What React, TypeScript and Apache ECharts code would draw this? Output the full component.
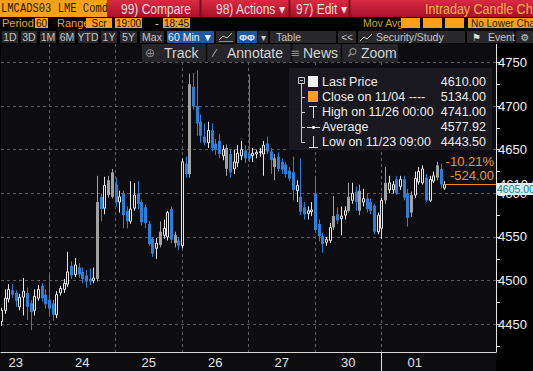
import React, { useEffect, useRef } from "react";
import * as echarts from "echarts";

// ---------- data ----------
const tradingDates = ["11/23", "11/24", "11/25", "11/26", "11/27", "11/30", "12/01", "12/02"];
const sessionHours = [
  "20:00", "21:00", "22:00", "23:00", "00:00", "01:00", "02:00", "03:00", "04:00",
  "05:00", "06:00", "07:00", "08:00", "09:00", "10:00", "11:00", "12:00", "13:00",
];
const firstSlot = 5; // first visible bar = 6th hourly slot of 11/23
const slotCount = 135; // bars that fit the visible time window

const opens = [
  4453, 4466, 4479, 4489, 4486, 4470, 4481, 4486, 4474, 4466, 4480, 4494, 4484,
  4478, 4474, 4461, 4486, 4490, 4496, 4517, 4507, 4515, 4510, 4506, 4502, 4500, 4502, 4596, 4583, 4598, 4596,
  4610, 4590, 4600, 4580, 4568, 4583, 4600, 4590, 4584, 4565, 4548, 4537, 4541, 4552, 4550, 4582, 4543, 4546,
  4540, 4634, 4622, 4722, 4700, 4682, 4665, 4658, 4672, 4657, 4660, 4643, 4628, 4645, 4628, 4635, 4643, 4649,
  4645, 4643, 4645, 4647, 4645, 4657, 4648, 4630, 4642, 4636, 4633, 4626, 4624, 4603, 4596, 4584, 4577, 4579,
  4600, 4565, 4551, 4544, 4546, 4561, 4576, 4571, 4575, 4580, 4592, 4602, 4580, 4590, 4594, 4590, 4586, 4556,
  4560, 4592, 4604, 4604, 4616, 4608, 4616, 4600, 4578, 4598, 4613, 4612, 4618, 4592, 4614, 4618, 4628, 4606,
];
const closes = [
  4466, 4480, 4490, 4484, 4477, 4481, 4488, 4470, 4464, 4482, 4490, 4480, 4473,
  4468, 4461, 4484, 4491, 4497, 4510, 4506, 4518, 4507, 4502, 4499, 4499, 4503, 4590, 4582, 4609, 4615, 4624,
  4590, 4596, 4575, 4568, 4582, 4598, 4588, 4567, 4566, 4542, 4531, 4543, 4556, 4560, 4578, 4547, 4552, 4540,
  4636, 4622, 4725, 4700, 4680, 4666, 4658, 4672, 4652, 4650, 4645, 4650, 4652, 4624, 4636, 4646, 4650, 4640,
  4640, 4646, 4647, 4648, 4655, 4648, 4638, 4640, 4628, 4627, 4622, 4617, 4604, 4609, 4579, 4576, 4580, 4581,
  4558, 4551, 4542, 4547, 4561, 4574, 4569, 4574, 4580, 4596, 4600, 4590, 4603, 4594, 4582, 4580, 4556, 4575,
  4592, 4612, 4612, 4610, 4600, 4616, 4595, 4572, 4598, 4617, 4625, 4628, 4592, 4616, 4620, 4632, 4610, 4610,
];
const highs = [
  4469, 4490, 4496, 4496, 4489, 4485, 4503, 4492, 4478, 4490, 4495, 4497, 4490,
  4508, 4478, 4488, 4494, 4502, 4533, 4522, 4526, 4520, 4515, 4512, 4514, 4515, 4620, 4600, 4619, 4620, 4628,
  4618, 4603, 4603, 4585, 4614, 4612, 4614, 4593, 4587, 4568, 4550, 4549, 4568, 4570, 4580, 4585, 4556, 4550,
  4640, 4642, 4737, 4738, 4741, 4690, 4680, 4682, 4680, 4662, 4668, 4655, 4656, 4650, 4650, 4655, 4660, 4655,
  4736, 4652, 4650, 4652, 4660, 4665, 4652, 4645, 4647, 4640, 4636, 4630, 4642, 4615, 4640, 4590, 4585, 4590,
  4620, 4570, 4555, 4550, 4566, 4597, 4584, 4585, 4585, 4612, 4612, 4608, 4610, 4605, 4600, 4594, 4588, 4578,
  4595, 4630, 4620, 4614, 4620, 4620, 4620, 4605, 4602, 4625, 4630, 4632, 4622, 4620, 4625, 4636, 4634, 4614,
];
const lows = [
  4448, 4462, 4475, 4480, 4470, 4466, 4460, 4455, 4443.5, 4460, 4477, 4476, 4468,
  4460, 4454, 4457, 4483, 4486, 4493, 4502, 4504, 4503, 4497, 4492, 4495, 4497, 4499, 4568, 4576, 4595, 4594,
  4585, 4578, 4560, 4560, 4565, 4580, 4582, 4563, 4560, 4540, 4527, 4525, 4538, 4548, 4546, 4543, 4538, 4535,
  4537, 4618, 4618, 4696, 4666, 4658, 4655, 4652, 4648, 4644, 4640, 4638, 4620, 4618, 4622, 4630, 4638, 4635,
  4636, 4636, 4640, 4642, 4620, 4645, 4622, 4615, 4625, 4622, 4618, 4614, 4592, 4590, 4575, 4570, 4570, 4574,
  4555, 4545, 4532, 4540, 4543, 4558, 4565, 4552, 4570, 4578, 4588, 4580, 4575, 4585, 4578, 4576, 4553, 4553,
  4548, 4588, 4600, 4600, 4598, 4604, 4592, 4562, 4573, 4595, 4610, 4610, 4590, 4590, 4612, 4615, 4606, 4604,
];
const grayBars = [26, 29, 30, 43, 47, 51, 61, 74, 90, 94, 97, 104, 111, 118];

const yTickValues = [4450, 4500, 4550, 4600, 4650, 4700, 4750];
const yMinorTickValues = [4425, 4450, 4475, 4500, 4525, 4550, 4575, 4600, 4625, 4650, 4675, 4700, 4725, 4750];
const priorClose = 5134;
const priorCloseDate = "11/04";
const averagePrice = 4577.92;
const bidPrice = 4605;
const ticker = "LMCADS03 LME Comdty";

// ---------- derived ----------
const categories: string[] = [];
for (let i = 0; i < slotCount; i++) {
  const s = i + firstSlot;
  const d = Math.floor(s / sessionHours.length);
  categories.push(`${tradingDates[d]} ${sessionHours[s % sessionHours.length]}`);
}
const nBars = opens.length;
const lastPrice = closes[nBars - 1];
const highVal = Math.max(...highs);
const highIdx = highs.indexOf(highVal);
const lowVal = Math.min(...lows);
const lowIdx = lows.indexOf(lowVal);
const chg = lastPrice - priorClose;
const pct = (chg / priorClose) * 100;

const FONT = '"Liberation Sans", Arial, sans-serif';
const ORANGE = "#f6a01c";
const BTN = "#29292c";

function rect(x: number, y: number, w: number, h: number, fill: any, z = 100, extra: any = {}) {
  return { type: "rect", z, silent: true, shape: { x, y, width: w, height: h }, style: { fill, ...extra } };
}
function txt(x: number, y: number, t: string, fill: string, size: number, opts: any = {}) {
  return {
    type: "text",
    z: opts.z ?? 110,
    x,
    y,
    scaleX: opts.sx ?? 1,
    scaleY: opts.sy ?? 1,
    silent: true,
    style: {
      text: t,
      fill,
      fontSize: size,
      fontFamily: opts.family ?? FONT,
      fontWeight: opts.weight ?? "normal",
      align: opts.align ?? "left",
      verticalAlign: "middle",
    },
  };
}
function ln(x1: number, y1: number, x2: number, y2: number, stroke: string, w = 1, z = 110) {
  return { type: "line", z, silent: true, shape: { x1, y1, x2, y2 }, style: { stroke, lineWidth: w } };
}

function buildGraphics() {
  const g: any[] = [];
  // row 1
  g.push(rect(0, 0, 533, 17, "#000", 99));
  g.push(rect(0, 0, 108, 17, ORANGE, 100));
  g.push(txt(1, 9, ticker, "#2a1a00", 10.5, { family: '"Liberation Mono", monospace', z: 101, sy: 1.25 }));
  g.push(
    rect(
      107,
      0,
      426,
      17,
      new echarts.graphic.LinearGradient(0, 0, 0, 1, [
        { offset: 0, color: "#d92b41" },
        { offset: 1, color: "#a9102a" },
      ]),
      102
    )
  );
  g.push(ln(200.5, 0, 200.5, 17, "#7a0a1b", 2, 103));
  g.push(ln(289.5, 0, 289.5, 17, "#7a0a1b", 2, 103));
  g.push(ln(349.5, 0, 349.5, 17, "#7a0a1b", 2, 103));
  g.push(txt(121, 9, "99) Compare", "#f7dede", 12, { z: 104, sy: 1.15 }));
  g.push(txt(216, 9, "98) Actions ▾", "#f7dede", 12, { z: 104, sy: 1.15 }));
  g.push(txt(296, 9, "97) Edit ▾", "#f7dede", 12, { z: 104, sy: 1.15 }));
  g.push(txt(425, 9, "Intraday Candle Chart", "#f8b04a", 12.5, { z: 104, sy: 1.1 }));

  // row 2
  g.push(rect(0, 17, 533, 14, "#000", 99));
  g.push(txt(2, 23, "Period", "#f0a020", 11));
  g.push(rect(35, 18, 13, 10, ORANGE));
  g.push(txt(41.5, 23, "60", "#111", 10, { align: "center" }));
  g.push(txt(57, 23, "Range", "#f0a020", 11));
  g.push(rect(86, 18, 26, 10, ORANGE));
  g.push(txt(99, 23, "Scr", "#111", 10, { align: "center" }));
  g.push(rect(115, 18, 27, 10, ORANGE));
  g.push(txt(128.5, 23, "19:00", "#111", 10, { align: "center" }));
  g.push(txt(155, 23, "-", "#ddd", 11));
  g.push(rect(163, 18, 27, 10, ORANGE));
  g.push(txt(176.5, 23, "18:45", "#111", 10, { align: "center" }));
  g.push(txt(363, 23, "Mov Avg", "#d9a21f", 10.5));
  g.push(rect(401, 18, 19, 10, ORANGE));
  g.push(rect(423, 18, 19, 10, ORANGE));
  g.push(rect(445, 18, 19, 10, ORANGE));
  g.push(rect(468, 18, 65, 10, ORANGE));
  g.push(txt(471, 23, "No Lower Chart", "#222", 10));

  // row 3
  g.push(rect(0, 31, 533, 13, "#000", 99));
  const btns: [number, number, string][] = [
    [2, 18, "1D"], [21, 37, "3D"], [40, 56, "1M"], [59, 75, "6M"], [78, 98, "YTD"],
    [101, 117, "1Y"], [120, 137, "5Y"], [140, 164, "Max"],
  ];
  btns.forEach(([a, b, t]) => {
    g.push(rect(a, 31, b - a, 12, BTN));
    g.push(txt((a + b) / 2, 37, t, "#c4c4c4", 10.5, { align: "center" }));
  });
  g.push(rect(167, 31, 47, 12, "#1d5aa3"));
  g.push(txt(190.5, 37, "60 Min ▼", "#eef4ff", 10.5, { align: "center" }));
  g.push(rect(216, 31, 19, 12, BTN));
  g.push({ type: "polyline", z: 110, silent: true, shape: { points: [[219, 40], [223, 36], [227, 38], [232, 33]] }, style: { stroke: "#bbb", lineWidth: 1, fill: "none" } });
  g.push(ln(219, 41.5, 233, 41.5, "#888"));
  g.push(rect(237, 31, 20, 12, "#1d5aa3"));
  g.push(txt(247, 37, "ΦΦ", "#e8eef8", 9.5, { align: "center", weight: "bold" }));
  g.push(rect(258, 31, 10, 12, BTN));
  g.push(txt(263, 37, "▾", "#ccc", 10, { align: "center" }));
  g.push(rect(270, 31, 66, 12, BTN));
  g.push(txt(276, 37, "Table", "#c4c4c4", 10.5));
  g.push(rect(338, 31, 18, 12, BTN));
  g.push(txt(347, 37, "<<", "#c4c4c4", 10, { align: "center" }));
  g.push(rect(358, 31, 107, 12, BTN));
  g.push({ type: "polyline", z: 110, silent: true, shape: { points: [[360, 41], [364, 37], [367, 39], [372, 34]] }, style: { stroke: "#ccc", lineWidth: 1, fill: "none" } });
  g.push(txt(376, 37, "Security/Study", "#c4c4c4", 10.5));
  g.push(rect(467, 31, 47, 12, BTN));
  g.push(txt(472, 37, "⚑", "#dcdcdc", 10, { family: '"DejaVu Sans", sans-serif' }));
  g.push(txt(488, 37, "Event", "#c4c4c4", 10.5));
  g.push(rect(516, 31, 17, 12, BTN));
  g.push(txt(525, 37, "⚙", "#c4c4c4", 10, { align: "center", family: '"DejaVu Sans", sans-serif' }));

  // row 4 (overlay toolbar)
  g.push(rect(142, 44, 256, 18, "rgba(40,40,44,0.93)"));
  [206.5, 291.5, 341.5].forEach((x) => g.push(ln(x, 44, x, 62, "#0b0b0e", 1.5)));
  g.push(txt(150, 53, "⊕", "#8d8d8d", 12, { align: "center", family: '"DejaVu Sans", sans-serif' }));
  g.push(txt(164, 53, "Track", "#d4d4d4", 14));
  g.push(ln(212, 57, 217, 49, "#8d8d8d", 1.2));
  g.push(txt(227, 53, "Annotate", "#d4d4d4", 14));
  g.push(txt(295, 53, "≡", "#8d8d8d", 12, { align: "center", family: '"DejaVu Sans", sans-serif' }));
  g.push(txt(303, 53, "News", "#d4d4d4", 14));
  g.push({ type: "circle", z: 110, silent: true, shape: { cx: 353, cy: 51.5, r: 3 }, style: { stroke: "#8d8d8d", fill: "none", lineWidth: 1.2 } });
  g.push(ln(350.8, 53.8, 348.3, 56.5, "#8d8d8d", 1.4));
  g.push(txt(361, 53, "Zoom", "#d4d4d4", 14));

  // legend panel
  g.push(rect(289, 68, 203, 82, "rgba(26,26,31,0.94)"));
  g.push(rect(298.5, 77.5, 6, 6, "none", 111, { stroke: "#c8c8c8", lineWidth: 1 }));
  g.push(ln(300, 80.5, 303, 80.5, "#c8c8c8", 1, 111));
  g.push(ln(301.5, 84, 301.5, 142.5, "#c8c8c8"));
  [97.5, 112.5, 127.5, 142.5].forEach((y) => g.push(ln(301.5, y, 305, y, "#c8c8c8")));
  g.push(rect(308, 76, 10, 11, "#f2f2f2"));
  g.push(rect(308, 91, 10, 11, ORANGE));
  g.push(ln(309, 106.5, 317, 106.5, "#dcdcdc"));
  g.push(ln(313.5, 106.5, 313.5, 118, "#dcdcdc"));
  g.push(ln(307, 127.5, 320, 127.5, "#dcdcdc"));
  g.push({ type: "circle", z: 111, silent: true, shape: { cx: 313.5, cy: 127.5, r: 1.6 }, style: { fill: "#eee" } });
  g.push(ln(313.5, 136, 313.5, 147.5, "#dcdcdc"));
  g.push(ln(309, 147.5, 318, 147.5, "#dcdcdc"));
  const rows: [string, string][] = [
    ["Last Price", lastPrice.toFixed(2)],
    [`Close on ${priorCloseDate} ----`, priorClose.toFixed(2)],
    [`High on ${categories[highIdx]}`, highVal.toFixed(2)],
    ["Average", averagePrice.toFixed(2)],
    [`Low on ${categories[lowIdx]}`, lowVal.toFixed(2)],
  ];
  rows.forEach(([a, b], k) => {
    const y = 82 + k * 15;
    g.push(txt(322, y, a, "#ececec", 12.5));
    g.push(txt(486, y, b, "#ececec", 12.5, { align: "right" }));
  });
  // x-axis strip
  g.push(rect(0, 352, 496, 19, "#0c0c0f", 0));
  return g;
}

export default function App() {
  const ref = useRef<HTMLDivElement>(null);
  useEffect(() => {
    if (!ref.current) return;
    const chart = echarts.init(ref.current, null, { renderer: "svg" });
    const candleData = opens.map((o, i) => [
      i,
      o,
      closes[i],
      lows[i],
      highs[i],
      grayBars.includes(i) ? 2 : closes[i] >= o ? 0 : 1,
    ]);
    const COLORS = ["#e6e6e6", "#2e7fd8", "#a2a2a2"];
    const HIDDEN = { color: "rgba(0,0,0,0)", width: 0 };
    const option: any = {
      animation: false,
      backgroundColor: "#000",
      grid: {
        left: 1,
        right: 37,
        top: 44,
        bottom: 19,
        show: true,
        backgroundColor: "#0d0d11",
        borderWidth: 0,
      },
      xAxis: {
        type: "category",
        data: categories,
        boundaryGap: false,
        axisLine: { show: true, lineStyle: { color: "#d6d6d6", width: 1 } },
        axisTick: {
          show: true,
          length: 19,
          lineStyle: { color: "#e0e0e0" },
          interval: (i: number) => i > 0 && categories[i].slice(0, 2) !== categories[i - 1].slice(0, 2),
        },
        axisLabel: {
          show: true,
          color: "#e4e4e4",
          fontSize: 13,
          fontFamily: FONT,
          margin: 4,
          interval: (i: number) => (i + firstSlot) % sessionHours.length === 9 && i < nBars,
          formatter: (v: string) => v.split(" ")[0].split("/")[1],
        },
        splitLine: {
          show: true,
          interval: (i: number) => (i + firstSlot) % sessionHours.length === 0 && i < nBars,
          lineStyle: { color: "#5c5c60", type: [3, 3], width: 1 },
        },
      },
      yAxis: {
        type: "value",
        position: "right",
        min: 4418.3,
        max: 4771,
        axisLine: { show: true, lineStyle: { color: "#e6e6e6", width: 1 } },
        axisTick: { show: true, length: 4, customValues: yMinorTickValues, lineStyle: { color: "#e6e6e6" } },
        axisLabel: {
          show: true,
          customValues: yTickValues,
          color: "#f2f2f2",
          fontSize: 13,
          fontFamily: FONT,
          margin: 2,
          formatter: (v: number) => String(Math.round(v)),
        },
        splitLine: { show: false },
      },
      graphic: { elements: buildGraphics() },
      series: [
        {
          type: "line",
          data: closes,
          silent: true,
          showSymbol: false,
          lineStyle: { opacity: 0 },
          z: 1,
          markLine: {
            z: 1,
            silent: true,
            symbol: ["none", "none"],
            label: { show: false },
            lineStyle: { color: "#58585d", type: [3, 3], width: 1 },
            data: yTickValues.map((v) => ({ yAxis: v })),
          },
        },
        {
          type: "custom",
          z: 3,
          clip: true,
          encode: { x: 0, y: [1, 2, 3, 4] },
          data: candleData,
          renderItem: (params: any, api: any) => {
            const i = api.value(0);
            const o = api.value(1);
            const c = api.value(2);
            const l = api.value(3);
            const h = api.value(4);
            const k = api.value(5);
            const p0 = api.coord([i, o]);
            const px = Math.round(p0[0]);
            const yO = p0[1];
            const yC = api.coord([i, c])[1];
            const yL = api.coord([i, l])[1];
            const yH = api.coord([i, h])[1];
            const top = Math.min(yO, yC);
            const hgt = Math.max(Math.abs(yO - yC), 1);
            const col = COLORS[k];
            const children: any[] = [
              { type: "line", shape: { x1: px + 0.5, y1: yH, x2: px + 0.5, y2: yL }, style: { stroke: col, lineWidth: 1 } },
            ];
            if (k === 0) {
              children.push({ type: "rect", shape: { x: px - 0.5, y: top, width: 2, height: hgt }, style: { fill: "#0d0d11", stroke: col, lineWidth: 1 } });
            } else {
              children.push({ type: "rect", shape: { x: px - 1, y: top, width: 3, height: hgt }, style: { fill: col } });
            }
            return { type: "group", children };
          },
        },
        {
          type: "line",
          data: closes,
          silent: true,
          showSymbol: false,
          lineStyle: { opacity: 0 },
          z: 5,
          markLine: {
            z: 6,
            silent: true,
            symbol: ["none", "none"],
            data: [
              {
                yAxis: lastPrice,
                lineStyle: HIDDEN,
                label: { show: true, position: "end", distance: 3, formatter: lastPrice.toFixed(2), color: "#f2f2f2", fontSize: 13, fontFamily: FONT },
              },
              [
                {
                  coord: [categories[nBars - 1], lastPrice],
                  lineStyle: { color: "#e0902a", width: 1.2, type: "solid" },
                  label: {
                    show: true,
                    position: "insideEndTop",
                    distance: 2,
                    formatter: `${pct.toFixed(2)}%\n${chg.toFixed(2)}`,
                    color: "#e8962c",
                    fontSize: 13,
                    lineHeight: 14,
                    fontFamily: FONT,
                  },
                },
                { coord: [categories[slotCount - 1], lastPrice] },
              ],
            ],
          },
        },
        {
          type: "line",
          data: closes,
          silent: true,
          showSymbol: false,
          lineStyle: { opacity: 0 },
          z: 7,
          markLine: {
            z: 8,
            silent: true,
            symbol: ["none", "none"],
            data: [
              {
                yAxis: bidPrice,
                lineStyle: HIDDEN,
                label: {
                  show: true,
                  position: "end",
                  distance: 0,
                  formatter: bidPrice.toFixed(2),
                  color: "#17808c",
                  backgroundColor: "#d9eef0",
                  padding: [1, 3, 0, 1],
                  fontSize: 10.5,
                  fontFamily: FONT,
                },
              },
            ],
          },
        },
      ],
    };
    chart.setOption(option);
    return () => chart.dispose();
  }, []);
  return <div ref={ref} style={{ position: "fixed", left: 0, top: 0, width: 533, height: 371 }} />;
}
